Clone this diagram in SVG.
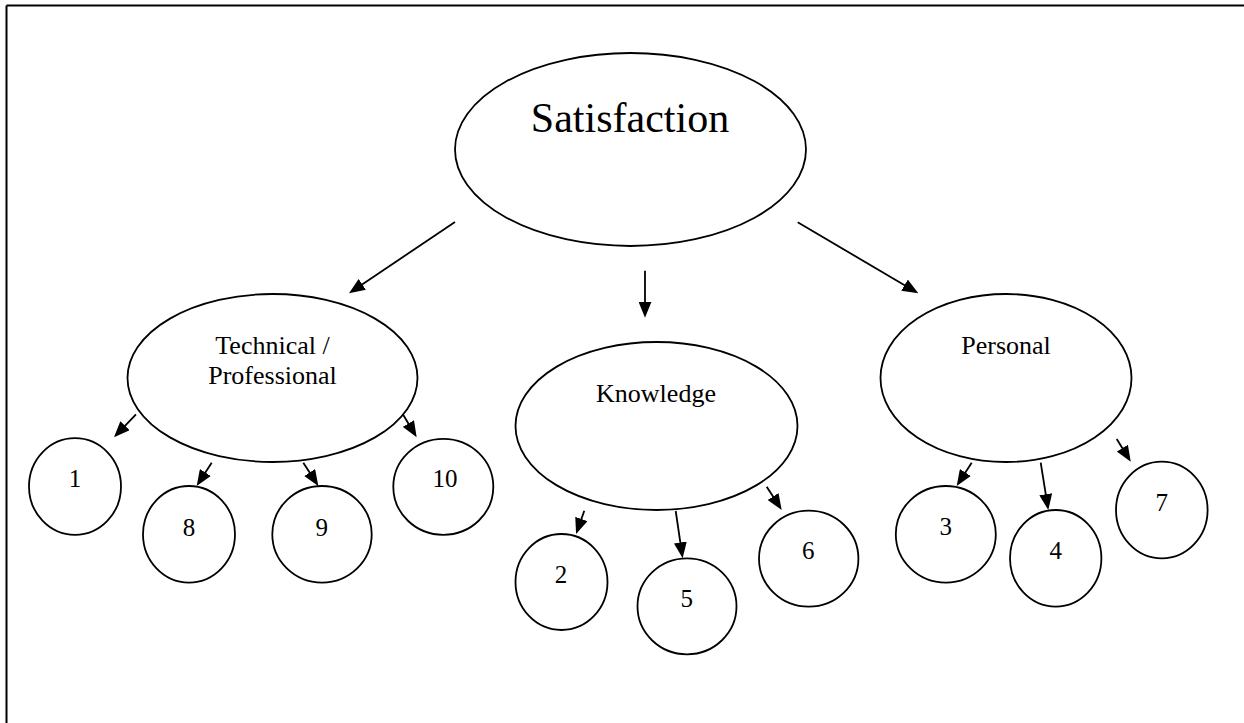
<svg xmlns="http://www.w3.org/2000/svg" width="1244" height="723" viewBox="0 0 1244 723">
<style>
.n{fill:#fff;stroke:#000;stroke-width:1.8}
.t{font-family:"Liberation Serif","Times New Roman",serif;fill:#000;text-anchor:middle}
.c{stroke:#000;stroke-width:1.8;fill:none;marker-end:url(#ah)}
</style>
<defs>
<marker id="ah" viewBox="0 0 16 13" refX="6" refY="6.5" markerWidth="16" markerHeight="13" markerUnits="userSpaceOnUse" orient="auto">
<path d="M0,0 L16,6.5 L0,13 z" fill="#000"/>
</marker>
</defs>
<rect width="1244" height="723" fill="#fff"/>
<g id="frame" stroke="#000" stroke-width="2" fill="none">
<line x1="6.5" y1="5.5" x2="1244" y2="5.5"/>
<line x1="6.5" y1="5.5" x2="6.5" y2="723"/>
</g>
<g id="connectors">
<line class="c" x1="455" y1="222" x2="357.3" y2="287.7"/>
<line class="c" x1="645" y1="270.7" x2="645" y2="307.7"/>
<line class="c" x1="797.7" y1="222.3" x2="909.7" y2="288.2"/>
<line class="c" x1="136" y1="414.3" x2="120.9" y2="430.1"/>
<line class="c" x1="211.7" y1="462.7" x2="202.1" y2="477.6"/>
<line class="c" x1="303.3" y1="462.7" x2="312.9" y2="477.6"/>
<line class="c" x1="403.3" y1="415" x2="411.5" y2="428.7"/>
<line class="c" x1="584.3" y1="510.7" x2="579.4" y2="524.6"/>
<line class="c" x1="675.7" y1="511" x2="681.2" y2="548.4"/>
<line class="c" x1="766.7" y1="486.7" x2="776.3" y2="501.6"/>
<line class="c" x1="971.7" y1="462.7" x2="962.1" y2="477.6"/>
<line class="c" x1="1040.7" y1="462.7" x2="1046.7" y2="500.1"/>
<line class="c" x1="1116.7" y1="439" x2="1125.5" y2="453.2"/>
</g>
<g id="satisfaction">
<ellipse class="n" cx="630.5" cy="149.5" rx="175.5" ry="96.5"/>
<text class="t" x="630" y="131.7" font-size="42">Satisfaction</text>
</g>
<g id="technical">
<ellipse class="n" cx="272.5" cy="378" rx="145" ry="84"/>
<text class="t" x="272.5" y="354.3" font-size="26">Technical /</text>
<text class="t" x="272.5" y="384" font-size="26">Professional</text>
</g>
<g id="knowledge">
<ellipse class="n" cx="656.5" cy="426" rx="141" ry="84"/>
<text class="t" x="656" y="402.3" font-size="26">Knowledge</text>
</g>
<g id="personal">
<ellipse class="n" cx="1006" cy="378" rx="125.5" ry="84"/>
<text class="t" x="1006" y="354.3" font-size="26">Personal</text>
</g>
<g id="n1"><ellipse class="n" cx="75" cy="486.5" rx="46" ry="48.3"/><text class="t" x="75" y="487" font-size="25">1</text></g>
<g id="n8"><ellipse class="n" cx="189" cy="534.3" rx="46" ry="48.3"/><text class="t" x="189" y="535.5" font-size="25">8</text></g>
<g id="n9"><ellipse class="n" cx="322" cy="534.3" rx="49.7" ry="48.3"/><text class="t" x="321.7" y="535.5" font-size="25">9</text></g>
<g id="n10"><ellipse class="n" cx="443.3" cy="486.8" rx="50" ry="48"/><text class="t" x="445" y="487.3" font-size="25">10</text></g>
<g id="n2"><ellipse class="n" cx="561.5" cy="582" rx="46" ry="48"/><text class="t" x="561" y="582.7" font-size="25">2</text></g>
<g id="n5"><ellipse class="n" cx="687" cy="606.3" rx="49.5" ry="48"/><text class="t" x="686.7" y="606.7" font-size="25">5</text></g>
<g id="n6"><ellipse class="n" cx="808.7" cy="558.7" rx="49.7" ry="48"/><text class="t" x="808.3" y="559.3" font-size="25">6</text></g>
<g id="n3"><ellipse class="n" cx="945.8" cy="534.3" rx="50" ry="48.3"/><text class="t" x="945.7" y="535" font-size="25">3</text></g>
<g id="n4"><ellipse class="n" cx="1055.7" cy="558.3" rx="45.7" ry="48.3"/><text class="t" x="1055.7" y="559.3" font-size="25">4</text></g>
<g id="n7"><ellipse class="n" cx="1161.8" cy="510" rx="45.8" ry="48.3"/><text class="t" x="1161.7" y="510.7" font-size="25">7</text></g>
</svg>
